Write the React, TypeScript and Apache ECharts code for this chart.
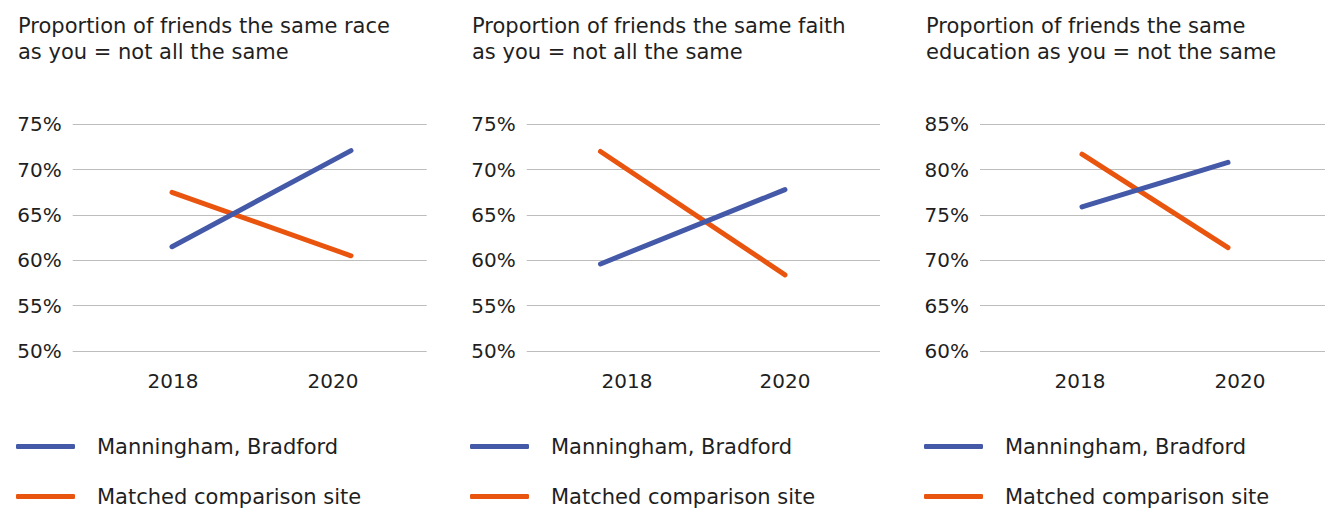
import React, { useEffect, useRef } from "react";
import * as echarts from "echarts";

// ---- Data ----
const years = [2018, 2020];
const seriesNames = ["Manningham, Bradford", "Matched comparison site"];
const titles = [
  "Proportion of friends the same race\nas you = not all the same",
  "Proportion of friends the same faith\nas you = not all the same",
  "Proportion of friends the same\neducation as you = not the same",
];
const raceBradford = [61.5, 72.1];
const raceComparison = [67.5, 60.5];
const faithBradford = [59.6, 67.8];
const faithComparison = [72.0, 58.4];
const eduBradford = [75.9, 80.8];
const eduComparison = [81.7, 71.4];
const yMins = [50, 50, 60];
const yMaxs = [75, 75, 85];
const yInterval = 5;

// ---- Layout / style ----
const W = 1325;
const H = 511;
const BLUE = "#4459A7";
const ORANGE = "#E9550F";
const TEXT = "#1f1f1f";
const GRID_LINE = "#bdbdbd";
const FONT = "'DejaVu Sans', sans-serif";
const panels = [
  { left: 72.7, right: 426.7, lineX: [172, 351], labelX: [173, 333], titleX: 18, legendX: 16 },
  { left: 526.7, right: 880, lineX: [600.5, 785], labelX: [627, 785], titleX: 472, legendX: 470 },
  { left: 980, right: 1325, lineX: [1082, 1228], labelX: [1080, 1240], titleX: 926, legendX: 924 },
];
const GRID_TOP = 124.3;
const GRID_BOTTOM = 351;
const LEGEND_TOPS = [436, 486];

function axisRange(gL: number, gR: number, p: number[]) {
  const ppy = (p[1] - p[0]) / (years[1] - years[0]);
  return {
    min: years[0] - (p[0] - gL) / ppy,
    max: years[1] + (gR - p[1]) / ppy,
  };
}

export default function App() {
  const ref = useRef<HTMLDivElement>(null);
  useEffect(() => {
    if (!ref.current) return;
    const chart = echarts.init(ref.current, undefined, { renderer: "svg" });
    const data = [
      [raceBradford, raceComparison],
      [faithBradford, faithComparison],
      [eduBradford, eduComparison],
    ];
    const grids: any[] = [];
    const xAxes: any[] = [];
    const yAxes: any[] = [];
    const series: any[] = [];
    const title: any[] = [];
    const legend: any[] = [];
    panels.forEach((p, i) => {
      grids.push({
        left: p.left,
        width: p.right - p.left,
        top: GRID_TOP,
        height: GRID_BOTTOM - GRID_TOP,
        containLabel: false,
      });
      const lab = axisRange(p.left, p.right, p.labelX);
      const lin = axisRange(p.left, p.right, p.lineX);
      // label axis
      xAxes.push({
        type: "value",
        gridIndex: i,
        min: lab.min,
        max: lab.max,
        axisLine: { show: false },
        axisTick: { show: false },
        splitLine: { show: false },
        axisLabel: {
          customValues: years,
          formatter: (v: number) => String(Math.round(v)),
          color: TEXT,
          fontSize: 20,
          fontFamily: FONT,
          margin: 20,
        },
      });
      // line axis (hidden)
      xAxes.push({
        type: "value",
        gridIndex: i,
        min: lin.min,
        max: lin.max,
        show: false,
        splitLine: { show: false },
      });
      yAxes.push({
        type: "value",
        gridIndex: i,
        min: yMins[i],
        max: yMaxs[i],
        interval: yInterval,
        axisLine: { show: false },
        axisTick: { show: false },
        splitLine: { lineStyle: { color: GRID_LINE, width: 1 } },
        axisLabel: {
          formatter: "{value}%",
          color: TEXT,
          fontSize: 20,
          fontFamily: FONT,
          margin: 11,
        },
      });
      const colors = [BLUE, ORANGE];
      data[i].forEach((vals, s) => {
        series.push({
          type: "line",
          name: seriesNames[s],
          xAxisIndex: i * 2 + 1,
          yAxisIndex: i,
          data: years.map((y, k) => [y, vals[k]]),
          symbol: "none",
          color: colors[s],
          lineStyle: { width: 5, color: colors[s], cap: "round" },
          z: s === 0 ? 3 : 2,
        });
        legend.push({
          data: [seriesNames[s]],
          left: p.legendX,
          top: LEGEND_TOPS[s],
          padding: 0,
          icon: "roundRect",
          itemWidth: 59,
          itemHeight: 5,
          selectedMode: false,
          textStyle: {
            fontSize: 21,
            color: TEXT,
            fontFamily: FONT,
            lineHeight: 20,
            padding: [0, 0, 0, 17],
          },
        });
      });
      title.push({
        text: titles[i],
        left: p.titleX,
        top: 13,
        padding: 0,
        textStyle: {
          fontSize: 21,
          fontWeight: "normal",
          color: TEXT,
          fontFamily: FONT,
          lineHeight: 26,
        },
      });
    });
    chart.setOption({
      animation: false,
      backgroundColor: "#ffffff",
      title,
      legend,
      grid: grids,
      xAxis: xAxes,
      yAxis: yAxes,
      series,
    });
    return () => chart.dispose();
  }, []);
  return (
    <div
      ref={ref}
      style={{ position: "absolute", left: 0, top: 0, width: W, height: H }}
    />
  );
}
